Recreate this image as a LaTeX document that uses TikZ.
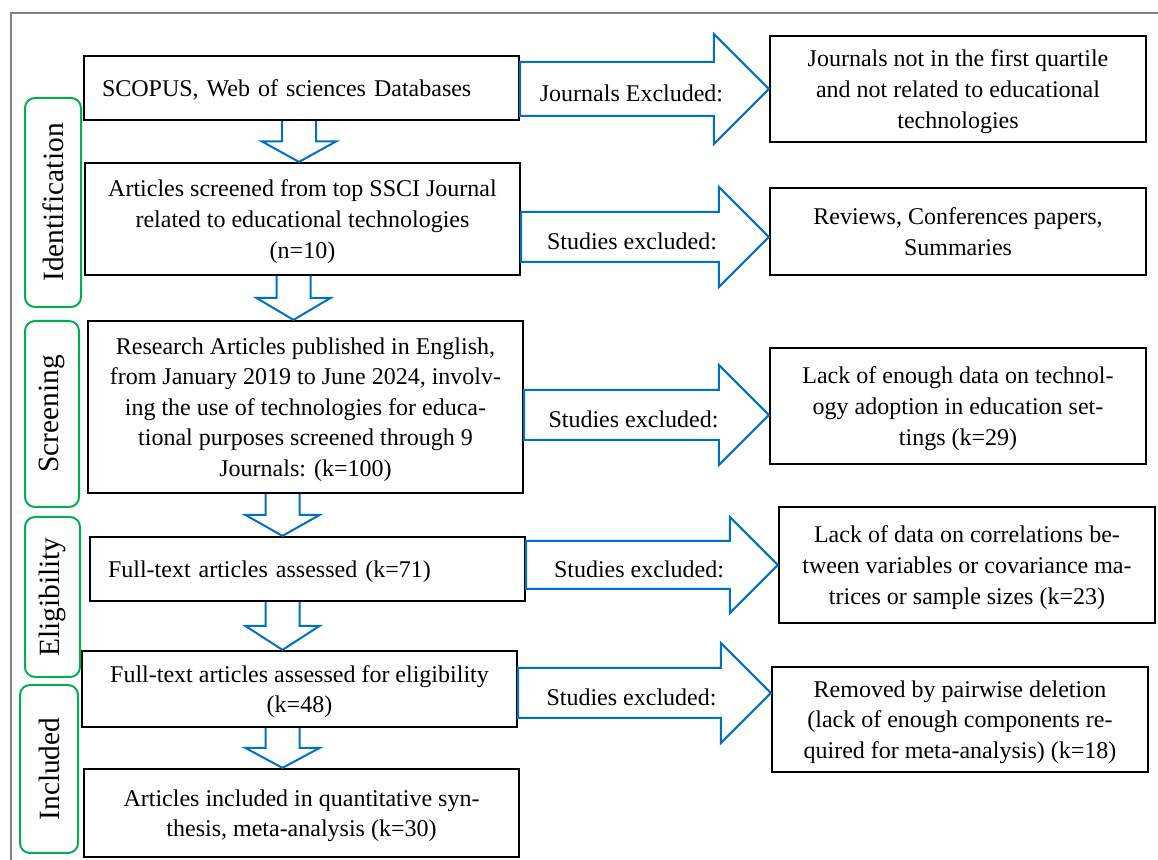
\documentclass[tikz,border=0pt]{standalone}
\usepackage{fontspec}
\setmainfont{Liberation Serif}
\usetikzlibrary{calc, positioning}

\definecolor{flowblue}{RGB}{0,112,192}
\definecolor{flowgreen}{RGB}{0,176,80}
\definecolor{framegray}{RGB}{130,130,130}

\tikzset{
    box/.style={draw, line width=1.1pt, align=center, inner sep=0pt, text depth=0pt,
        minimum width=217.5pt, font=\fontsize{12}{15.3}\selectfont},
    leftbox/.style={box, align=left, text width=199.5pt, inner xsep=9pt},
    exbox/.style={box, minimum width=188pt},
    phase/.style={draw=flowgreen, line width=1pt, rounded corners=5pt, rotate=90,
        inner sep=0pt, font=\fontsize{14.7}{17}\selectfont},
    blockarrow/.style={draw=flowblue, line width=1pt, line join=miter},
    exlabel/.style={inner sep=0pt, font=\fontsize{12}{15.3}\selectfont}
}

% down block arrow between two boxes, at a given x
\newcommand{\dnarrow}[3]{%
    \coordinate (top) at (#1.south -| #3,0);
    \coordinate (mid) at ($(#1.south -| #3,0)!0.5!(#2.north -| #3,0)$);
    \draw[blockarrow] ($(top)+(-17,0)$) -- ($(mid)+(-17,0)$) -- ($(mid)+(-37,0)$)
        -- (#2.north -| #3,0) -- ($(mid)+(37,0)$) -- ($(mid)+(17,0)$) -- ($(top)+(17,0)$);
}

% right block arrow with its label
\newcommand{\exarrow}[6]{%
    \coordinate (s) at (#1.east |- 0,#3);
    \coordinate (t) at (#2.west |- 0,#3);
    \draw[blockarrow] ($(s)+(0,-#4)$) -- ($(t)+(-#5,-#4)$) -- ($(t)+(-#5,-#5)$) -- (t)
        -- ($(t)+(-#5,#5)$) -- ($(t)+(-#5,#4)$) -- ($(s)+(0,#4)$) -- cycle;
    \node (#1-ex) [exlabel] at ($(s)!0.5!(t)+(-13,4)$) {#6};
}

\begin{document}
\begin{tikzpicture}[x=0.5pt, y=-0.5pt]
    \useasboundingbox (0,0) rectangle (1158,860);
    \draw[framegray, line width=0.6pt] (11,860) -- (11,13) -- (1158,13);

    % main column
    \node (db) [leftbox, minimum height=32pt] at (301.5,88) {SCOPUS, Web of sciences Databases};
    \node (ssci) [box, minimum height=56pt] at (302.5,219)
        {Articles screened from top SSCI Journal\\related to educational technologies\\(n=10)};
    \node (res) [box, minimum height=86pt] at (305.5,407)
        {Research Articles published in English,\\from January 2019 to June 2024, involv-\\ing the use of technologies for educa-\\tional purposes screened through 9\\Journals: (k=100)};
    \node (full) [leftbox, minimum height=32pt] at (307.5,569) {Full-text articles assessed (k=71)};
    \node (elig) [box, minimum height=38pt] at (299.5,689)
        {Full-text articles assessed for eligibility\\(k=48)};
    \node (incl) [box, minimum height=44pt] at (301.5,813)
        {Articles included in quantitative syn-\\thesis, meta-analysis (k=30)};

    % excluded column
    \node (q1) [exbox, minimum height=53pt] at (958,89)
        {Journals not in the first quartile\\and not related to educational\\technologies};
    \node (rev) [exbox, minimum height=43.5pt] at (958,231.5)
        {Reviews, Conferences papers,\\Summaries};
    \node (lack) [exbox, minimum height=58pt] at (958,406)
        {Lack of enough data on technol-\\ogy adoption in education set-\\tings (k=29)};
    \node (corr) [exbox, minimum height=58pt] at (967,565)
        {Lack of data on correlations be-\\tween variables or covariance ma-\\trices or sample sizes (k=23)};
    \node (pair) [exbox, minimum height=52.5pt] at (960,719.5)
        {Removed by pairwise deletion\\(lack of enough components re-\\quired for meta-analysis) (k=18)};

    % phases
    \node (idf) [phase, minimum width=104.5pt, minimum height=28pt] at (53,202.5) {Identification};
    \node (scr) [phase, minimum width=93pt, minimum height=27pt] at (52,414) {Screening};
    \node (eli) [phase, minimum width=80pt, minimum height=27.5pt] at (52.5,597) {Eligibility};
    \node (inc) [phase, minimum width=84pt, minimum height=29pt] at (49,769) {Included};

    % flow
    \dnarrow{db}{ssci}{299}
    \dnarrow{ssci}{res}{293.5}
    \dnarrow{res}{full}{282.5}
    \dnarrow{full}{elig}{282.5}
    \dnarrow{elig}{incl}{282.5}

    \exarrow{db}{q1}{89}{27}{55}{Journals Excluded:}
    \exarrow{ssci}{rev}{237}{25}{50}{Studies excluded:}
    \exarrow{res}{lack}{415}{25}{50}{Studies excluded:}
    \exarrow{full}{corr}{565}{24}{48}{Studies excluded:}
    \exarrow{elig}{pair}{693}{25}{50}{Studies excluded:}
\end{tikzpicture}
\end{document}
